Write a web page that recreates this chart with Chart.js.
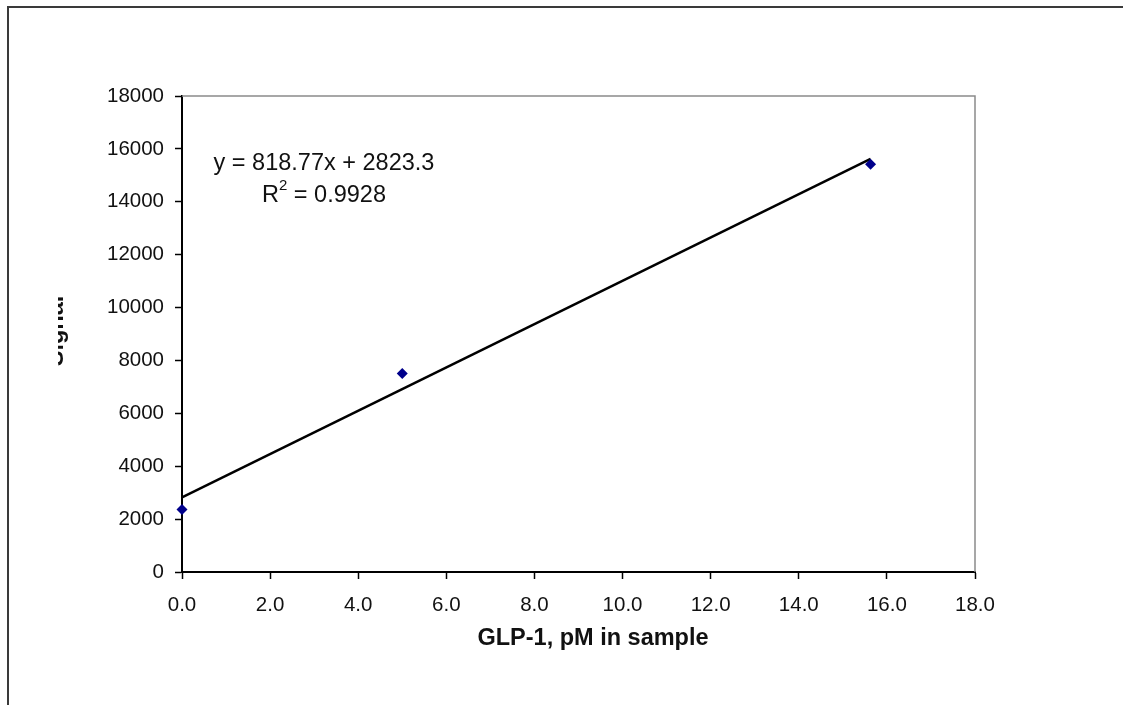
<!DOCTYPE html>
<html>
<head>
<meta charset="utf-8">
<script src="https://cdn.jsdelivr.net/npm/chart.js@4.4.1/dist/chart.umd.min.js"></script>
<style>
  html, body { margin: 0; padding: 0; background: #fff; }
  #wrap { width: 1123px; height: 705px; position: relative; }
</style>
</head>
<body>
<div id="wrap"><canvas id="chart" width="1123" height="705"></canvas></div>
<script>
// ---- data ----
const glpValues = [0, 5, 15.63];          // GLP-1, pM in sample
const signalValues = [2360, 7510, 15420];  // Signal
const trendX = [0, 15.63];                 // linear trendline ends
const trendY = [2823.3, 15620];
const equationText = 'y = 818.77x + 2823.3';
const r2Value = '0.9928';
const xTitle = 'GLP-1, pM in sample';
const yTitle = 'Signal';

const FONT = '"Liberation Sans", Arial, sans-serif';

// frame, plot border, titles and the trendline label
const decorations = {
  id: 'decorations',
  beforeDatasetsDraw(chart) {
    const c = chart.ctx;
    const a = chart.chartArea;
    c.save();
    // grey top/right edges of plot area
    c.strokeStyle = '#8a8a8a';
    c.lineWidth = 1.5;
    c.beginPath();
    c.moveTo(a.left, a.top);
    c.lineTo(a.right, a.top);
    c.lineTo(a.right, a.bottom);
    c.stroke();
    c.restore();
  },
  afterDraw(chart) {
    const c = chart.ctx;
    c.save();

    // outer frame (only the left and top edges show)
    c.strokeStyle = '#3a3a3a';
    c.lineWidth = 2;
    c.beginPath();
    c.moveTo(8, 705);
    c.lineTo(8, 7);
    c.lineTo(1123, 7);
    c.stroke();

    c.fillStyle = '#111';

    // x title
    c.font = 'bold 23.5px ' + FONT;
    c.textAlign = 'center';
    c.textBaseline = 'middle';
    c.fillText(xTitle, 593, 639);

    // y title, clipped like the original
    c.save();
    c.beginPath();
    c.rect(58, 0, 200, 705);
    c.clip();
    c.translate(63, 331);
    c.rotate(-Math.PI / 2);
    c.textAlign = 'center';
    c.textBaseline = 'alphabetic';
    c.fillText(yTitle, 0, 0);
    c.restore();

    // trendline equation
    c.font = '23.5px ' + FONT;
    c.textAlign = 'center';
    c.textBaseline = 'middle';
    c.fillText(equationText, 324, 164);

    // R^2 with superscript
    const rest = ' = ' + r2Value;
    const wR = c.measureText('R').width;
    const wRest = c.measureText(rest).width;
    c.font = '15px ' + FONT;
    const wSup = c.measureText('2').width;
    const total = wR + wSup + wRest;
    let x = 324 - total / 2;
    c.textAlign = 'left';
    c.font = '23.5px ' + FONT;
    c.fillText('R', x, 196);
    x += wR;
    c.font = '15px ' + FONT;
    c.fillText('2', x, 186);
    x += wSup;
    c.font = '23.5px ' + FONT;
    c.fillText(rest, x, 196);

    c.restore();
  }
};

const ctx = document.getElementById('chart').getContext('2d');

new Chart(ctx, {
  type: 'scatter',
  data: {
    datasets: [
      {
        label: 'trend',
        type: 'line',
        data: trendX.map((x, i) => ({ x: x, y: trendY[i] })),
        borderColor: '#000',
        borderWidth: 2.5,
        pointRadius: 0,
        fill: false,
        clip: false,
        order: 2
      },
      {
        label: 'Signal',
        data: glpValues.map((x, i) => ({ x: x, y: signalValues[i] })),
        pointStyle: 'rectRot',
        pointRadius: 5.5,
        backgroundColor: '#00008b',
        borderColor: '#00008b',
        borderWidth: 0,
        clip: false,
        order: 1
      }
    ]
  },
  options: {
    responsive: false,
    animation: false,
    events: [],
    layout: { padding: { left: 0, top: 96, right: 148, bottom: 0 } },
    plugins: {
      legend: { display: false },
      tooltip: { enabled: false }
    },
    scales: {
      x: {
        type: 'linear',
        min: 0,
        max: 18,
        afterFit: (s) => { s.height = 133; },
        border: { color: '#000', width: 2 },
        grid: { drawOnChartArea: false, drawTicks: true, tickLength: 7, tickColor: '#000', tickWidth: 1.5 },
        ticks: {
          stepSize: 2,
          maxRotation: 0,
          padding: 14,
          color: '#111',
          font: { family: FONT, size: 20.5 },
          callback: (v) => v.toFixed(1)
        }
      },
      y: {
        min: 0,
        max: 18000,
        afterFit: (s) => { s.width = 182; },
        border: { color: '#000', width: 2 },
        grid: { drawOnChartArea: false, drawTicks: true, tickLength: 7, tickColor: '#000', tickWidth: 1.5 },
        ticks: {
          stepSize: 2000,
          padding: 11,
          color: '#111',
          font: { family: FONT, size: 20.5 },
          callback: (v) => String(v)
        }
      }
    }
  },
  plugins: [decorations]
});
</script>
</body>
</html>
